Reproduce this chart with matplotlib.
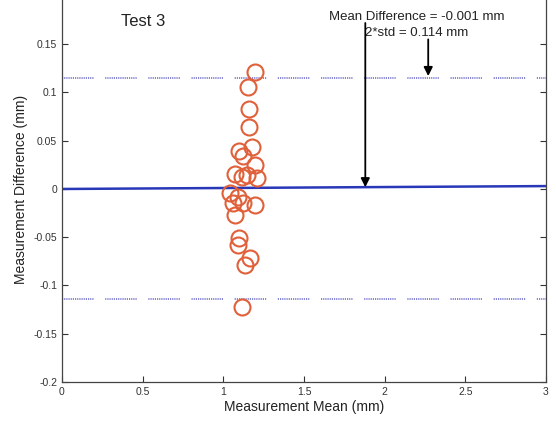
import matplotlib.pyplot as plt
import numpy as np

plt.rcParams['font.family'] = ['Liberation Sans', 'DejaVu Sans']

# ---- data ---------------------------------------------------------------------
mean_mm = [1.197, 1.155, 1.160, 1.160, 1.176, 1.100, 1.124, 1.197, 1.070, 1.145,
           1.207, 1.114, 1.040, 1.090, 1.060, 1.124, 1.197, 1.070, 1.100, 1.090,
           1.166, 1.135, 1.114]
diff_mm = [0.121, 0.106, 0.0825, 0.064, 0.044, 0.039, 0.034, 0.025, 0.016, 0.0145,
           0.011, 0.0127, -0.0045, -0.008, -0.0148, -0.0148, -0.017, -0.027, -0.051,
           -0.058, -0.072, -0.079, -0.122]

fit_x = [0.0, 3.0]
fit_y = [0.0, 0.003]
upper_limit = 0.115
lower_limit = -0.114

mean_diff = -0.001
two_std = 0.114

# ---- figure -------------------------------------------------------------------
fig = plt.figure(figsize=(5.56, 4.23), dpi=100)
ax = fig.add_axes([0.1115, 0.097, 0.8705, 0.9125])

ax.plot(mean_mm, diff_mm, 'o', mfc='none', mec='#e0603a', mew=1.5, ms=11.5, zorder=3)
ax.plot(fit_x, fit_y, color='#2838b8', lw=1.8, zorder=2)

dots = [0.7, 0.6] * 14 + [0.7, 7.0]
for lim in (upper_limit, lower_limit):
    ax.plot(fit_x, [lim, lim], color='#6f6fcc', lw=1.2, dashes=dots, zorder=1)

ax.set_xlim(0, 3)
ax.set_ylim(-0.2, 0.2)
ax.set_xticks([0, 0.5, 1, 1.5, 2, 2.5, 3])
ax.set_xticklabels(['0', '0.5', '1', '1.5', '2', '2.5', '3'])
ax.set_yticks([-0.2, -0.15, -0.1, -0.05, 0, 0.05, 0.1, 0.15, 0.2])
ax.set_yticklabels(['-0.2', '-0.15', '-0.1', '-0.05', '0', '0.05', '0.1', '0.15', '0.2'])
ax.tick_params(direction='in', length=4, width=0.8, labelsize=7.5, colors='#333333',
               top=False, right=True)
for s in ax.spines.values():
    s.set_color('#444444')
    s.set_linewidth(0.9)

ax.set_xlabel('Measurement Mean (mm)', fontsize=10, color='#222222', labelpad=2)
ax.set_ylabel('Measurement Difference (mm)', fontsize=10, color='#222222', labelpad=4)

ax.text(0.5, 0.174, 'Test 3', fontsize=12, ha='center', va='center', color='#222222')
ax.text(2.2, 0.178, 'Mean Difference = %.3f mm' % mean_diff, fontsize=9.5,
        ha='center', va='center', color='#222222')
ax.text(2.2, 0.162, '2*std = %.3f mm' % two_std, fontsize=9.5,
        ha='center', va='center', color='#222222')

# arrows to the fitted mean line and the upper limit
ax.annotate('', xy=(1.88, 0.0018), xytext=(1.88, 0.172),
            arrowprops=dict(arrowstyle='-|>', color='black', lw=1.3,
                            mutation_scale=13, shrinkA=0, shrinkB=0))
ax.annotate('', xy=(2.27, upper_limit + 0.002), xytext=(2.27, 0.155),
            arrowprops=dict(arrowstyle='-|>', color='black', lw=1.3,
                            mutation_scale=13, shrinkA=0, shrinkB=0))

fig.savefig('out.png', dpi=100)
